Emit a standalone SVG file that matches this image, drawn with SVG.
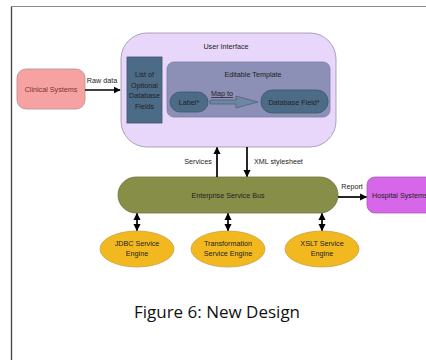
<svg xmlns="http://www.w3.org/2000/svg" width="426" height="360" viewBox="0 0 426 360">
<defs>
<style>
text{font-family:"Liberation Sans",Arial,sans-serif;font-size:7.2px;fill:#222;text-anchor:middle}
.dk{fill:#4c6b86;stroke:#3d566c;stroke-width:0.8}
.eng{fill:#f2b81f;stroke:#c9a24a;stroke-width:0.8}
.ln{stroke:#000;stroke-width:1.7;fill:none}
</style>
<marker id="ah" viewBox="0 0 10 10" refX="9" refY="5" markerWidth="4.2" markerHeight="4.2" orient="auto-start-reverse" markerUnits="strokeWidth">
<path d="M0,0 L10,5 L0,10 z" fill="#000"/>
</marker>
</defs>
<rect width="426" height="360" fill="#fff"/>
<path d="M11.5,360 V6.5 H426" fill="none" stroke="#888" stroke-width="1.2"/>
<path d="M11.5,360 V7" fill="none" stroke="#444" stroke-width="1.2"/>

<g id="ui">
<rect x="121" y="33" width="215" height="114" rx="26" fill="#e8d6fb" stroke="#9a8fa8" stroke-width="0.8"/>
<text x="226" y="49">User Interface</text>
</g>
<g id="list">
<rect class="dk" x="127" y="57" width="35" height="66"/>
<text x="144.5" y="77">List of</text>
<text x="144.5" y="87.5">Optional</text>
<text x="144.5" y="98">Database</text>
<text x="144.5" y="108.5">Fields</text>
</g>
<g id="template">
<rect x="167" y="62" width="163" height="55" rx="7" fill="#8c8fb6" stroke="#7a7fa0" stroke-width="0.8"/>
<text x="253" y="77">Editable Template</text>
</g>
<g id="label">
<rect class="dk" x="170" y="92" width="38" height="20" rx="10"/>
<text x="189" y="104.5">Label*</text>
</g>
<g id="dbfield">
<rect class="dk" x="261" y="90" width="67" height="23" rx="11"/>
<text x="294" y="104.5">Database Field*</text>
</g>
<g id="clinical">
<rect x="17" y="69" width="68" height="40" rx="9" fill="#f7a2a2" stroke="#b98a8a" stroke-width="0.8"/>
<text x="51" y="92" style="fill:#7a3333">Clinical Systems</text>
</g>
<g id="esb">
<rect x="118" y="177" width="220" height="36" rx="18" fill="#868e47" stroke="#6f7440" stroke-width="0.8"/>
<text x="228" y="197.5">Enterprise Service Bus</text>
</g>
<g id="hospital">
<rect x="367" y="177" width="70" height="36" rx="8" fill="#d667e8" stroke="#a95bb8" stroke-width="0.8"/>
<text x="372" y="197.5" style="text-anchor:start">Hospital Systems</text>
</g>
<g id="jdbc">
<ellipse class="eng" cx="137" cy="249" rx="37" ry="18"/>
<text x="137" y="246">JDBC Service</text>
<text x="137" y="256">Engine</text>
</g>
<g id="transform">
<ellipse class="eng" cx="228" cy="249" rx="37" ry="18"/>
<text x="228" y="246">Transformation</text>
<text x="228" y="256">Service Engine</text>
</g>
<g id="xslt">
<ellipse class="eng" cx="322" cy="249" rx="37" ry="18"/>
<text x="322" y="246">XSLT Service</text>
<text x="322" y="256">Engine</text>
</g>

<g id="connectors">
<path d="M210,100 H236 V96 L258,102 L236,108 V104 H210 Z" fill="#6f86a3" stroke="#3d566c" stroke-width="0.6"/>
<text x="222" y="96" style="text-decoration:underline">Map to</text>
<line class="ln" x1="85" y1="90" x2="120" y2="90" marker-end="url(#ah)"/>
<text x="102" y="83">Raw data</text>
<line class="ln" x1="217" y1="177" x2="217" y2="147.5" marker-end="url(#ah)"/>
<text x="198" y="164">Services</text>
<line class="ln" x1="247" y1="147" x2="247" y2="176.5" marker-end="url(#ah)"/>
<text x="254" y="164" style="text-anchor:start">XML stylesheet</text>
<line class="ln" x1="338" y1="197" x2="366.5" y2="197" marker-end="url(#ah)"/>
<text x="352" y="189">Report</text>
<line class="ln" x1="137" y1="213.5" x2="137" y2="230.5" marker-start="url(#ah)" marker-end="url(#ah)"/>
<line class="ln" x1="228" y1="213.5" x2="228" y2="230.5" marker-start="url(#ah)" marker-end="url(#ah)"/>
<line class="ln" x1="322" y1="213.5" x2="322" y2="230.5" marker-start="url(#ah)" marker-end="url(#ah)"/>
</g>
<text x="217" y="318" style="font-family:'Open Sans','Liberation Sans',sans-serif;font-size:17px;fill:#111">Figure 6: New Design</text>
</svg>
